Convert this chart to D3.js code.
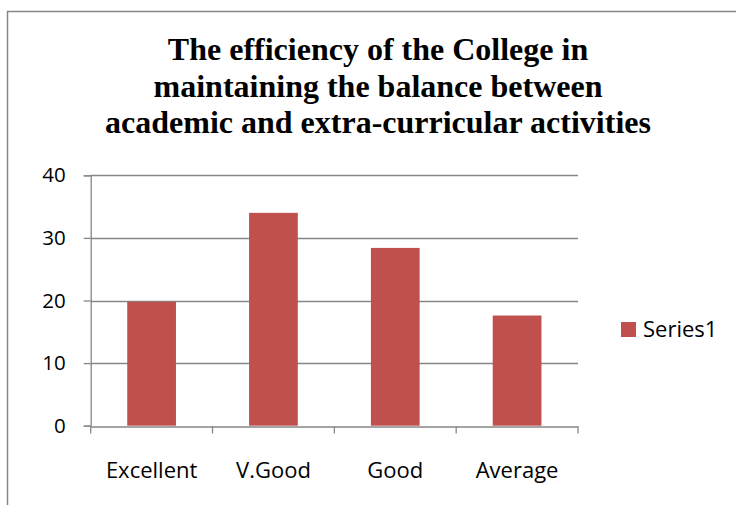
<!DOCTYPE html>
<html><head><meta charset="utf-8">
<script src="https://cdn.jsdelivr.net/npm/d3@7"></script>
<style>body{margin:0;background:#fff}svg{display:block}</style>
</head><body><svg id="c" width="736" height="505"></svg>
<script>
const categories = ["Excellent", "V.Good", "Good", "Average"];
const values = [19.8, 34.0, 28.4, 17.6];
const yTicks = [0, 10, 20, 30, 40];
const seriesName = "Series1";
const titleLines = ["The efficiency of the College in", "maintaining the balance between", "academic and extra-curricular activities"];

const svg = d3.select("#c");
const m = {left: 90.7, right: 578, top: 175.3, bottom: 425.7};
const gray = "#868686";
const labelFont = "'Open Sans', 'Noto Sans', sans-serif";

svg.append("rect").attr("x", 7.5).attr("y", 11.5).attr("width", 760).attr("height", 520)
  .attr("fill", "#fff").attr("stroke", gray).attr("stroke-width", 1.5);

svg.append("g").selectAll("text").data(titleLines).join("text")
  .attr("x", 378).attr("y", (d, i) => 60 + i * 36.7)
  .attr("text-anchor", "middle")
  .attr("font-family", "'Liberation Serif', 'Times New Roman', serif")
  .attr("font-weight", "bold").attr("font-size", 32).attr("fill", "#000")
  .text(d => d);

const x = d3.scaleBand().domain(categories).range([m.left, m.right]).paddingInner(0).paddingOuter(0);
const y = d3.scaleLinear().domain([0, 40]).range([m.bottom, m.top]);

// gridlines
svg.append("g").selectAll("line").data(yTicks.filter(t => t > 0)).join("line")
  .attr("x1", m.left).attr("x2", m.right)
  .attr("y1", d => Math.round(y(d)) + 0.5).attr("y2", d => Math.round(y(d)) + 0.5)
  .attr("stroke", gray).attr("stroke-width", 1.3);

// bars
const bw = x.bandwidth() * 0.4;
svg.append("g").selectAll("rect").data(values).join("rect")
  .attr("x", (d, i) => x(categories[i]) + (x.bandwidth() - bw) / 2)
  .attr("width", bw)
  .attr("y", d => y(d)).attr("height", d => y(0) - y(d))
  .attr("fill", "#C0504D");

// y axis
const yAxis = svg.append("g").attr("transform", `translate(${m.left},0)`)
  .call(d3.axisLeft(y).tickValues(yTicks).tickSize(7).tickPadding(18).tickFormat(d3.format("d")));
yAxis.select(".domain").attr("stroke", gray).attr("stroke-width", 1.3);
yAxis.selectAll(".tick line").attr("stroke", gray).attr("stroke-width", 1.3);
yAxis.selectAll(".tick text").attr("font-family", labelFont).attr("font-size", 20.5).attr("fill", "#000");

// x axis
const xAxis = svg.append("g").attr("transform", `translate(0,${Math.round(y(0)) + 0.5})`)
  .call(d3.axisBottom(x).tickSize(0).tickPadding(0));
xAxis.select(".domain").attr("stroke", gray).attr("stroke-width", 1.3);
xAxis.selectAll(".tick text").attr("dy", null).attr("y", 51)
  .attr("font-family", labelFont).attr("font-size", 22).attr("fill", "#000");
const edges = categories.map(c => x(c)).concat([m.right]);
xAxis.selectAll(".edge").data(edges).join("line").attr("class", "edge")
  .attr("x1", d => d).attr("x2", d => d).attr("y1", 0).attr("y2", 7)
  .attr("stroke", gray).attr("stroke-width", 1.3);

// legend
const lg = svg.append("g").attr("transform", "translate(621,322)");
lg.append("rect").attr("width", 15).attr("height", 15).attr("fill", "#C0504D");
lg.append("text").attr("x", 22).attr("y", 14.7).attr("font-family", labelFont)
  .attr("font-size", 22).attr("fill", "#000").text(seriesName);
</script></body></html>
